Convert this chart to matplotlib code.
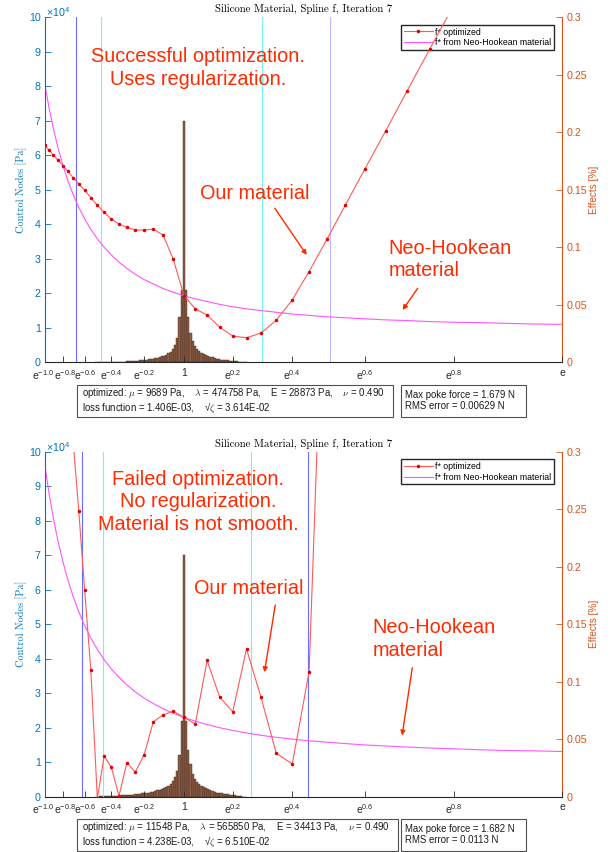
import numpy as np
import matplotlib
matplotlib.use("Agg")
import matplotlib.pyplot as plt
import matplotlib.transforms as mtransforms
from matplotlib.patches import Rectangle
from matplotlib.ticker import FormatStrFormatter

plt.rcParams['font.family'] = ['Liberation Sans', 'DejaVu Sans']
plt.rcParams['mathtext.fontset'] = 'cm'

# --- data (control nodes in 1e4 Pa, effects in %) ---
# spline knots sit every 0.05 in log-stretch
knots_top = np.round(np.arange(-1.0, 0.8001, 0.05), 2)
f_opt_top = [6.30, 6.15, 6.01, 5.86, 5.70, 5.54, 5.35, 5.17, 4.99, 4.77,
             4.55, 4.35, 4.15, 4.01, 3.91, 3.84, 3.83, 3.86, 3.69, 2.99,
             1.93, 1.55, 1.37, 1.02, 0.76, 0.71, 0.85, 1.22, 1.81, 2.63,
             3.56, 4.56, 5.61, 6.70, 7.87, 9.09, 10.35]

knots_bot = np.round(np.arange(-0.7, 0.5001, 0.05), 2)
f_opt_bot = [10.3, 8.29, 6.00, 3.67, -0.05, 1.18, 0.85, 0.02, 0.99, 0.71,
             1.21, 2.17, 2.37, 2.48, 2.30, 2.11, 3.95, 2.89, 2.46, 4.28,
             2.88, 1.26, 0.95, 3.62, 18.1]

knots_nh = np.round(np.arange(-1.0, 1.0001, 0.05), 2)
f_nh_top = [8.06, 7.39, 6.78, 6.23, 5.73, 5.27, 4.86, 4.49, 4.16, 3.85,
            3.58, 3.33, 3.11, 2.90, 2.72, 2.55, 2.40, 2.27, 2.14, 2.03,
            1.93, 1.84, 1.76, 1.68, 1.61, 1.55, 1.50, 1.45, 1.40, 1.36,
            1.32, 1.29, 1.26, 1.23, 1.21, 1.18, 1.16, 1.15, 1.13, 1.11, 1.10]
f_nh_bot = [9.62, 8.81, 8.08, 7.42, 6.83, 6.29, 5.80, 5.36, 4.96, 4.60,
            4.27, 3.97, 3.70, 3.46, 3.24, 3.04, 2.86, 2.70, 2.55, 2.42,
            2.30, 2.19, 2.09, 2.00, 1.92, 1.85, 1.78, 1.72, 1.67, 1.62,
            1.58, 1.54, 1.50, 1.47, 1.44, 1.41, 1.39, 1.36, 1.34, 1.33, 1.31]

# histogram of effects, bins 0.01 wide around stretch 1
hist_offsets = np.round(np.arange(-0.40, 0.2801, 0.01), 2)
effects_top = [0.00015, 0.00018, 0.00021, 0.00024, 0.00027, 0.0003, 0.00036, 0.00039, 0.00042, 0.00045,
               0.00051, 0.00054, 0.0006, 0.00066, 0.00075, 0.0009, 0.00105, 0.0012, 0.00135, 0.0015,
               0.00165, 0.0018, 0.00195, 0.00225, 0.00255, 0.00285, 0.0033, 0.0036, 0.0039, 0.0045,
               0.0051, 0.0057, 0.0066, 0.0078, 0.0093, 0.012, 0.015, 0.021, 0.039, 0.063,
               0.21, 0.063, 0.039, 0.0255, 0.0186, 0.0144, 0.0117, 0.0096, 0.0084, 0.0072,
               0.006, 0.0054, 0.0048, 0.0042, 0.0036, 0.003, 0.0027, 0.0024, 0.0021, 0.0018,
               0.00165, 0.0015, 0.0012, 0.00105, 0.0009, 0.0006, 0.00045, 0.0003, 0.00015]
effects_bot = [0.00015, 0.00015, 0.0003, 0.0003, 0.0003, 0.00045, 0.00045, 0.0006, 0.0006, 0.00075,
               0.0009, 0.0009, 0.00105, 0.0012, 0.00135, 0.0015, 0.00165, 0.0018, 0.0021, 0.00225,
               0.00255, 0.00285, 0.003, 0.0033, 0.0036, 0.0039, 0.0045, 0.0048, 0.0054, 0.006,
               0.0066, 0.0075, 0.0084, 0.0096, 0.0114, 0.0135, 0.0174, 0.0225, 0.036, 0.066,
               0.21, 0.066, 0.0405, 0.0285, 0.0198, 0.015, 0.0126, 0.0108, 0.0093, 0.0081,
               0.0072, 0.0063, 0.0054, 0.0048, 0.0042, 0.0036, 0.0033, 0.003, 0.0027, 0.0024,
               0.0021, 0.0018, 0.0015, 0.0012, 0.0009, 0.0006, 0.0003, 0.00015, 0.0]

# stretch limits shown as vertical lines
blue_top = [0.5095, 1.663]
cyan_top = [0.6245, 1.3557]
blue_bot = [0.538, 1.565]
cyan_bot = [0.6335, 1.3057]

xtick_exps = [-1.0, -0.8, -0.6, -0.4, -0.2, 0.0, 0.2, 0.4, 0.6, 0.8, 1.0]
xtick_labels = [r'$\mathregular{e^{-1.0}}$', r'$\mathregular{e^{-0.8}}$', r'$\mathregular{e^{-0.6}}$',
                r'$\mathregular{e^{-0.4}}$', r'$\mathregular{e^{-0.2}}$', '1',
                r'$\mathregular{e^{0.2}}$', r'$\mathregular{e^{0.4}}$', r'$\mathregular{e^{0.6}}$',
                r'$\mathregular{e^{0.8}}$', 'e']

W, H = 612, 852
BLUE = '#0072BD'
ORANGE = '#D95319'
NOTE = '#ff2a00'
DARK = '#262626'


def px(x, y):
    return (x / W, 1 - y / H)


def draw_panel(fig, y0, knots, f_opt, f_nh, effects, blues, blue_cols, cyans,
               note, note_y, our, nh, box1, box2, box_top, box1_right):
    x_left, x_right = 44.8, 562.3
    y_bot = y0 + 345
    ax = fig.add_axes([x_left / W, 1 - y_bot / H, (x_right - x_left) / W, 345 / H])
    ax2 = ax.twinx()
    ax.set_zorder(ax2.get_zorder() + 1)
    ax.patch.set_visible(False)

    # effects histogram on the right axis
    ax2.bar(1 + hist_offsets, effects, width=0.01, color='#8e5d45',
            edgecolor='#3a2a22', linewidth=0.3)
    ax2.set_ylim(0, 0.3)
    ax2.set_yticks([0, 0.05, 0.1, 0.15, 0.2, 0.25, 0.3])
    ax2.yaxis.set_major_formatter(FormatStrFormatter('%g'))

    for xv, c in zip(blues, blue_cols):
        ax.axvline(xv, color=c, lw=0.8)
    for xv in cyans:
        ax.axvline(xv, color='#70f4f4', lw=0.8)

    ax.plot(np.exp(knots), f_opt, '-', color='#ff5a5a', lw=0.8, marker='.',
            markersize=3, markerfacecolor='#e00000', markeredgecolor='#e00000',
            label='f* optimized', zorder=3)
    ax.plot(np.exp(knots_nh), f_nh, '-', color='#ff55ff', lw=0.8,
            label='f* from Neo-Hookean material')

    ax.set_xlim(np.exp(-1), np.e)
    ax.set_ylim(0, 10)
    ax.set_yticks(range(0, 11))
    ax.set_xticks(np.exp(xtick_exps))
    ax.set_xticklabels(xtick_labels)

    for a in (ax, ax2):
        a.spines['top'].set_visible(False)
    ax.spines['right'].set_visible(False)
    ax2.spines['left'].set_visible(False)
    ax2.spines['bottom'].set_visible(False)
    ax.spines['left'].set_color(BLUE)
    ax2.spines['right'].set_color(ORANGE)
    ax.spines['bottom'].set_color(DARK)
    ax.tick_params(axis='y', direction='in', colors=BLUE, labelsize=7.7, length=4, width=0.6, pad=3)
    ax.tick_params(axis='x', direction='in', colors=DARK, labelsize=7.5, length=4, width=0.6, pad=4)
    ax2.tick_params(axis='y', direction='in', colors=ORANGE, labelsize=7.7, length=4, width=0.6, pad=3)

    # the two leftmost tick labels crowd each other, nudge them apart a bit
    labels = ax.get_xticklabels()
    for lab, dx in [(labels[0], -1.8), (labels[1], 1.8)]:
        lab.set_transform(lab.get_transform() +
                          mtransforms.ScaledTranslation(dx / 100, 0, fig.dpi_scale_trans))

    leg = ax.legend(loc='upper right', bbox_to_anchor=(0.984, 0.978), fontsize=6.3,
                    fancybox=False, edgecolor=DARK, framealpha=1, borderpad=0.3,
                    handlelength=3.3, handletextpad=0.3, labelspacing=0.2, borderaxespad=0)
    leg.set_zorder(2.5)

    # axis decorations in figure pixels
    fig.text(*px(303.5, y0 - 8), 'Silicone Material, Spline f, Iteration 7',
             family='cmr10', fontsize=7.8, ha='center', va='center')
    fig.text(*px(45.7, y0 - 5), r'$\mathregular{\times10^{4}}$', color=BLUE,
             fontsize=7.7, ha='left', va='center')
    fig.text(*px(21, y0 + 172.5), 'Control Nodes [Pa]', family='cmr10', color=BLUE,
             fontsize=7.4, rotation=90, ha='center', va='center')
    fig.text(*px(594, y0 + 172.5), 'Effects [%]', color=ORANGE,
             fontsize=7.2, rotation=90, ha='center', va='center')

    # red notes and arrows
    fig.text(*px(198, note_y), note, color=NOTE, fontsize=14.3, ha='center',
             va='center', linespacing=1.24)
    (ox, oy), (ax0, ay0), (ax1_, ay1) = our
    fig.text(*px(ox, oy), 'Our material', color=NOTE, fontsize=14.3, ha='center', va='center')
    ax.annotate('', xy=px(ax1_, ay1), xytext=px(ax0, ay0), xycoords='figure fraction',
                textcoords='figure fraction',
                arrowprops=dict(arrowstyle='-|>', color=NOTE, lw=1.0, mutation_scale=7))
    (nx, ny), (bx0, by0), (bx1, by1) = nh
    fig.text(*px(nx, ny), 'Neo-Hookean\nmaterial', color=NOTE, fontsize=14.3, ha='left',
             va='center', linespacing=1.24)
    ax.annotate('', xy=px(bx1, by1), xytext=px(bx0, by0), xycoords='figure fraction',
                textcoords='figure fraction',
                arrowprops=dict(arrowstyle='-|>', color=NOTE, lw=1.0, mutation_scale=7))

    # result boxes under the axes, one multi-line text per box
    for (xa, xb) in [(77.3, box1_right), (400.7, 526)]:
        fig.add_artist(Rectangle(px(xa, box_top + 32), (xb - xa) / W, 32 / H,
                                 transform=fig.transFigure, fill=False,
                                 edgecolor='#505050', lw=0.8))
    fig.text(*px(81.7, box_top + 15.5), '\n'.join(box1), fontsize=6.9, ha='left',
             va='center', color='#1a1a1a', linespacing=0.92)
    fig.text(*px(405.3, box_top + 15.5), '\n'.join(box2), fontsize=6.9, ha='left',
             va='center', color='#1a1a1a', linespacing=1.24)


fig = plt.figure(figsize=(6.12, 8.52), dpi=100)

draw_panel(fig, 17.3, knots_top, f_opt_top, f_nh_top, effects_top,
           blue_top, ['#6b6bff', '#b8b8ff'], cyan_top,
           'Successful optimization.\nUses regularization.', 68.3,
           ((255, 193.3), (273.3, 206), (308.3, 257.3)),
           ((388.7, 259.7), (419.3, 286), (401, 312.3)),
           [r'optimized: $\mu$ = 9689 Pa,    $\lambda$ = 474758 Pa,    E = 28873 Pa,    $\nu$ = 0.490',
            r'loss function = 1.406E-03,    √$\zeta$ = 3.614E-02'],
           ['Max poke force = 1.679 N', 'RMS error = 0.00629 N'], 385, 393.3)

draw_panel(fig, 451.7, knots_bot, f_opt_bot, f_nh_bot, effects_bot,
           blue_bot, ['#6b6bff', '#6b6bff'], cyan_bot,
           'Failed optimization.\nNo regularization.\nMaterial is not smooth.', 501.7,
           ((249, 589), (275.7, 602.3), (264, 675)),
           ((372.5, 638.7), (412.7, 665), (401.7, 738.3)),
           [r'optimized: $\mu$ = 11548 Pa,    $\lambda$ = 565850 Pa,    E = 34413 Pa,    $\nu$ = 0.490',
            r'loss function = 4.238E-03,    √$\zeta$ = 6.510E-02'],
           ['Max poke force = 1.682 N', 'RMS error = 0.0113 N'], 819, 398.3)

fig.savefig('out.png', dpi=100)
